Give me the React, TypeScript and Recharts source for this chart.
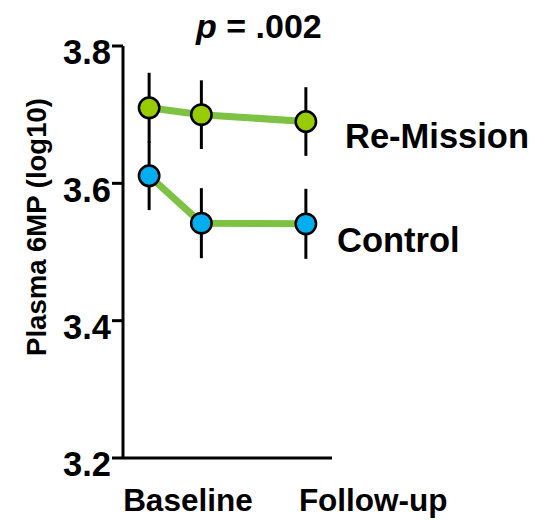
import { ErrorBar, Line, LineChart, XAxis, YAxis } from 'recharts';

// time points on a numeric axis (baseline, mid, follow-up)
const timepoints = [0, 1, 3];
const xLabelTicks = [0, 3];
const xLabels = ['Baseline', 'Follow-up'];
const yTicks = [3.2, 3.4, 3.6, 3.8];

const remission = [3.71, 3.7, 3.69];
const remissionErr = [0.051, 0.05, 0.05];
const control = [3.611, 3.542, 3.541];
const controlErr = [0.05, 0.051, 0.051];

const data = timepoints.map((t, i) => ({
  t,
  remission: remission[i],
  remissionErr: remissionErr[i],
  control: control[i],
  controlErr: controlErr[i],
}));

const FONT = '"Liberation Sans", Arial, Helvetica, sans-serif';
const LINE_GREEN = '#7DC242';

function YTick(props: any) {
  const { x, y, payload } = props;
  return (
    <text x={x} y={y + 6} dy="0.355em" textAnchor="end" fontFamily={FONT} fontWeight="bold" fontSize={34.5} fill="#000">
      {Number(payload.value).toFixed(1)}
    </text>
  );
}

function XTick(props: any) {
  const { x, index } = props;
  const shift = index === 0 ? -26 : -7;
  return (
    <text x={x + shift} y={511} textAnchor="start" fontFamily={FONT} fontWeight="bold" fontSize={31.5} fill="#000">
      {xLabels[index]}
    </text>
  );
}

export default function App() {
  return (
    <div style={{ position: 'absolute', left: 0, top: 0, width: 557, height: 520, background: '#fff' }}>
      <LineChart width={557} height={520} data={data} margin={{ top: 46, right: 225, bottom: 12, left: 0 }}>
        <XAxis
          type="number"
          dataKey="t"
          domain={[-0.5, 3.5]}
          ticks={xLabelTicks}
          tickLine={false}
          axisLine={{ stroke: '#000', strokeWidth: 3 }}
          height={50}
          tick={<XTick />}
        />
        <YAxis
          type="number"
          domain={[3.2, 3.8]}
          ticks={yTicks}
          width={123}
          tickSize={11}
          tickMargin={1}
          axisLine={{ stroke: '#000', strokeWidth: 3 }}
          tickLine={{ stroke: '#000', strokeWidth: 3 }}
          tick={<YTick />}
        />
        <Line
          dataKey="control"
          stroke={LINE_GREEN}
          strokeWidth={7}
          isAnimationActive={false}
          dot={{ r: 10.2, fill: '#00AEEF', stroke: '#000', strokeWidth: 2.5 }}
          activeDot={false}
        >
          <ErrorBar dataKey="controlErr" direction="y" width={0} stroke="#000" strokeWidth={3} isAnimationActive={false} />
        </Line>
        <Line
          dataKey="remission"
          stroke={LINE_GREEN}
          strokeWidth={7}
          isAnimationActive={false}
          dot={{ r: 10.2, fill: '#99CC00', stroke: '#000', strokeWidth: 2.5 }}
          activeDot={false}
        >
          <ErrorBar dataKey="remissionErr" direction="y" width={0} stroke="#000" strokeWidth={3} isAnimationActive={false} />
        </Line>
        <text x={196} y={38} fontFamily={FONT} fontWeight="bold" fontSize={34} fill="#000">
          <tspan fontStyle="italic">p</tspan> = .002
        </text>
        <text x={345} y={148} fontFamily={FONT} fontWeight="bold" fontSize={34.5} fill="#000">
          Re-Mission
        </text>
        <text x={337} y={251.5} fontFamily={FONT} fontWeight="bold" fontSize={34.5} fill="#000">
          Control
        </text>
        <text
          x={46}
          y={227}
          transform="rotate(-90 46 227)"
          textAnchor="middle"
          fontFamily={FONT}
          fontWeight="bold"
          fontSize={27.5}
          fill="#000"
        >
          Plasma 6MP (log10)
        </text>
      </LineChart>
    </div>
  );
}
